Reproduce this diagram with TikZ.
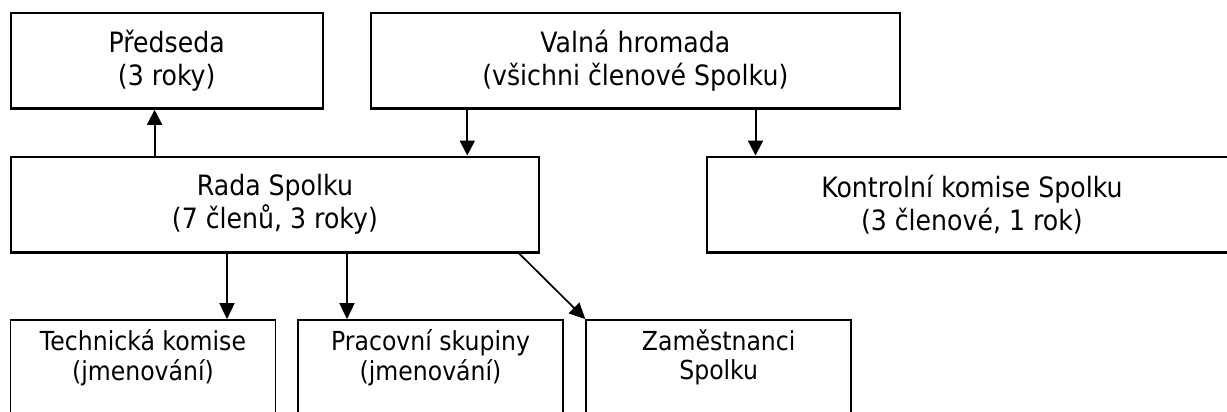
\documentclass[tikz,border=0pt]{standalone}
\usepackage{fontspec}
\setmainfont{DejaVu Sans}[FakeStretch=0.9]
\usetikzlibrary{arrows.meta}
\begin{document}
\begin{tikzpicture}[x=1pt,y=-1pt,
  bigbox/.style={draw, line width=2.3pt, inner sep=0pt, align=center,
    minimum height=95.8pt, font=\fontsize{28}{33}\selectfont},
  smallbox/.style={draw, line width=1.7pt, inner sep=0pt, minimum width=265pt, minimum height=140pt},
  smalltext/.style={inner sep=0pt, align=center, font=\fontsize{26.2}{29.5}\selectfont},
  arr/.style={line width=2pt, -{Triangle[length=15pt,width=15pt]}},
  arrthin/.style={line width=1.7pt, -{Triangle[length=16pt,width=15pt]}}]
\path[use as bounding box] (0,0) rectangle (1227,412);
\clip (0,0) rectangle (1227,412);
\fill[white] (0,0) rectangle (1227,412);

\node[bigbox, minimum width=312pt] (pred) at (166.7,60.7) {Předseda\\(3 roky)};
\node[bigbox, minimum width=529.3pt] (valna) at (635.3,60.7) {Valná hromada\\(všichni členové Spolku)};
\node[bigbox, minimum width=528.3pt] (rada) at (274.9,204.6) {Rada Spolku\\(7 členů, 3 roky)};
\node[bigbox, minimum width=530.3pt] (kontrol) at (971.9,204.6) {Kontrolní komise Spolku\\(3 členové, 1 rok)};

\node[smallbox] (tech) at (143,390) {};
\node[smallbox] (prac) at (430.5,390) {};
\node[smallbox] (zam) at (718.7,390) {};
\node[smalltext] (techT) at (143,357.5) {Technická komise\\(jmenování)};
\node[smalltext] (pracT) at (430.5,357.5) {Pracovní skupiny\\(jmenování)};
\node[smalltext] (zamT) at (718.7,357.5) {Zaměstnanci\\Spolku};

\coordinate (xa) at (154.6,0);
\coordinate (xb) at (467.3,0);
\coordinate (xc) at (755.5,0);
\coordinate (xd) at (227,0);
\coordinate (xe) at (347,0);
\coordinate (xf) at (519.3,0);

\draw[arr] (rada.north -| xa) -- (pred.south -| xa);
\draw[arr] (valna.south -| xb) -- (rada.north -| xb);
\draw[arr] (valna.south -| xc) -- (kontrol.north -| xc);
\draw[arrthin] (rada.south -| xd) -- (tech.north -| xd);
\draw[arrthin] (rada.south -| xe) -- (prac.north -| xe);
\draw[arrthin] (rada.south -| xf) -- (zam.north west);
\end{tikzpicture}
\end{document}
